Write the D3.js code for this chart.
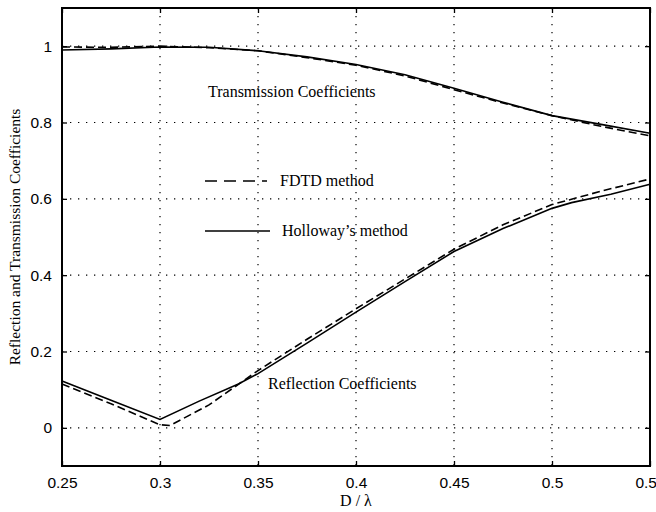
<!DOCTYPE html>
<html>
<head>
<meta charset="utf-8">
<script src="https://cdn.jsdelivr.net/npm/d3@7"></script>
<style>
  body { margin: 0; background: #fff; }
  svg { display: block; }
</style>
</head>
<body>
<svg id="chart" width="656" height="512"></svg>
<script>
// D / lambda sample points and coefficients
const transX = [0.25, 0.275, 0.3, 0.325, 0.35, 0.375, 0.4, 0.425, 0.45, 0.475, 0.5, 0.525, 0.55];
const transHolloway = [0.99, 0.993, 0.998, 0.997, 0.988, 0.972, 0.952, 0.925, 0.89, 0.853, 0.818, 0.795, 0.772];
const transFdtd = [0.998, 0.997, 1.0, 0.996, 0.988, 0.97, 0.95, 0.922, 0.886, 0.851, 0.818, 0.79, 0.765];

const reflX = [0.25, 0.275, 0.3, 0.32, 0.34, 0.35, 0.375, 0.4, 0.425, 0.45, 0.475, 0.5, 0.51, 0.53, 0.55];
const reflHolloway = [0.123, 0.072, 0.022, 0.07, 0.115, 0.142, 0.222, 0.303, 0.383, 0.462, 0.522, 0.575, 0.59, 0.612, 0.638];
const reflFdtdX = [0.25, 0.275, 0.3, 0.305, 0.325, 0.35, 0.375, 0.4, 0.425, 0.45, 0.475, 0.5, 0.525, 0.55];
const reflFdtd = [0.115, 0.063, 0.008, 0.006, 0.06, 0.15, 0.232, 0.312, 0.39, 0.468, 0.532, 0.585, 0.62, 0.652];

const xTicks = [0.25, 0.3, 0.35, 0.4, 0.45, 0.5, 0.55];
const yTicks = [0, 0.2, 0.4, 0.6, 0.8, 1];

const svg = d3.select('#chart');
const plotL = 62, plotR = 650, plotT = 8, plotB = 466;

const x = d3.scaleLinear().domain([0.25, 0.55]).range([plotL, plotR]);
const y = d3.scaleLinear().domain([-0.1, 1.1]).range([plotB, plotT]);

const serif = '"Liberation Serif", "Times New Roman", serif';
const sans = '"Liberation Sans", Arial, sans-serif';

// dotted grid
const grid = svg.append('g').attr('stroke', '#000').attr('stroke-width', 1.2)
  .attr('stroke-dasharray', '1.3,6.7');
grid.selectAll('.gx').data(xTicks.slice(1, -1)).join('line')
  .attr('x1', d => x(d)).attr('x2', d => x(d)).attr('y1', plotT).attr('y2', plotB);
grid.selectAll('.gy').data(yTicks).join('line')
  .attr('y1', d => y(d)).attr('y2', d => y(d)).attr('x1', plotL).attr('x2', plotR);

// axes with inward ticks
const fmt = d => d3.format('~g')(d);
svg.append('g').attr('transform', `translate(0,${plotB})`)
  .call(d3.axisBottom(x).tickValues(xTicks).tickFormat(fmt).tickSizeInner(-5).tickSizeOuter(0).tickPadding(11));
svg.append('g').attr('transform', `translate(${plotL},0)`)
  .call(d3.axisLeft(y).tickValues(yTicks).tickFormat(fmt).tickSizeInner(-5).tickSizeOuter(0).tickPadding(10));
svg.append('g').attr('transform', `translate(0,${plotT})`)
  .call(d3.axisTop(x).tickValues(xTicks).tickFormat('').tickSizeInner(-5).tickSizeOuter(0));
svg.append('g').attr('transform', `translate(${plotR},0)`)
  .call(d3.axisRight(y).tickValues(yTicks).tickFormat('').tickSizeInner(-5).tickSizeOuter(0));
svg.selectAll('.domain').remove();
svg.selectAll('.tick line').attr('stroke', '#000').attr('stroke-width', 1.3);
svg.selectAll('.tick text').attr('font-family', sans).attr('font-size', 15.5).attr('fill', '#000');

svg.append('rect').attr('x', plotL).attr('y', plotT)
  .attr('width', plotR - plotL).attr('height', plotB - plotT)
  .attr('fill', 'none').attr('stroke', '#000').attr('stroke-width', 2);

// curves
const line = d3.line().x(d => x(d[0])).y(d => y(d[1]));
const curves = [
  { pts: d3.zip(transX, transHolloway), dash: null },
  { pts: d3.zip(transX, transFdtd), dash: '8,4' },
  { pts: d3.zip(reflX, reflHolloway), dash: null },
  { pts: d3.zip(reflFdtdX, reflFdtd), dash: '8,4' }
];
svg.append('g').selectAll('path').data(curves).join('path')
  .attr('d', d => line(d.pts))
  .attr('fill', 'none').attr('stroke', '#000').attr('stroke-width', 1.6)
  .attr('stroke-dasharray', d => d.dash);

// annotations and legend
const txt = (px, py, s, size) => svg.append('text').attr('x', px).attr('y', py)
  .attr('font-family', serif).attr('font-size', size || 16).attr('fill', '#000').text(s);

txt(208, 97, 'Transmission Coefficients');
txt(268, 389, 'Reflection Coefficients');

svg.append('line').attr('x1', 205).attr('x2', 267).attr('y1', 181).attr('y2', 181)
  .attr('stroke', '#000').attr('stroke-width', 1.6).attr('stroke-dasharray', '12,7');
txt(280, 186, 'FDTD method');
svg.append('line').attr('x1', 205).attr('x2', 270).attr('y1', 231).attr('y2', 231)
  .attr('stroke', '#000').attr('stroke-width', 1.6);
txt(282, 236, 'Holloway\u2019s method');

txt(356, 506, 'D / \u03bb', 16).attr('text-anchor', 'middle');
svg.append('text')
  .attr('transform', `translate(20,${(plotT + plotB) / 2}) rotate(-90)`)
  .attr('text-anchor', 'middle')
  .attr('font-family', serif).attr('font-size', 15.5).attr('fill', '#000')
  .text('Reflection and Transmission Coefficients');
</script>
</body>
</html>
